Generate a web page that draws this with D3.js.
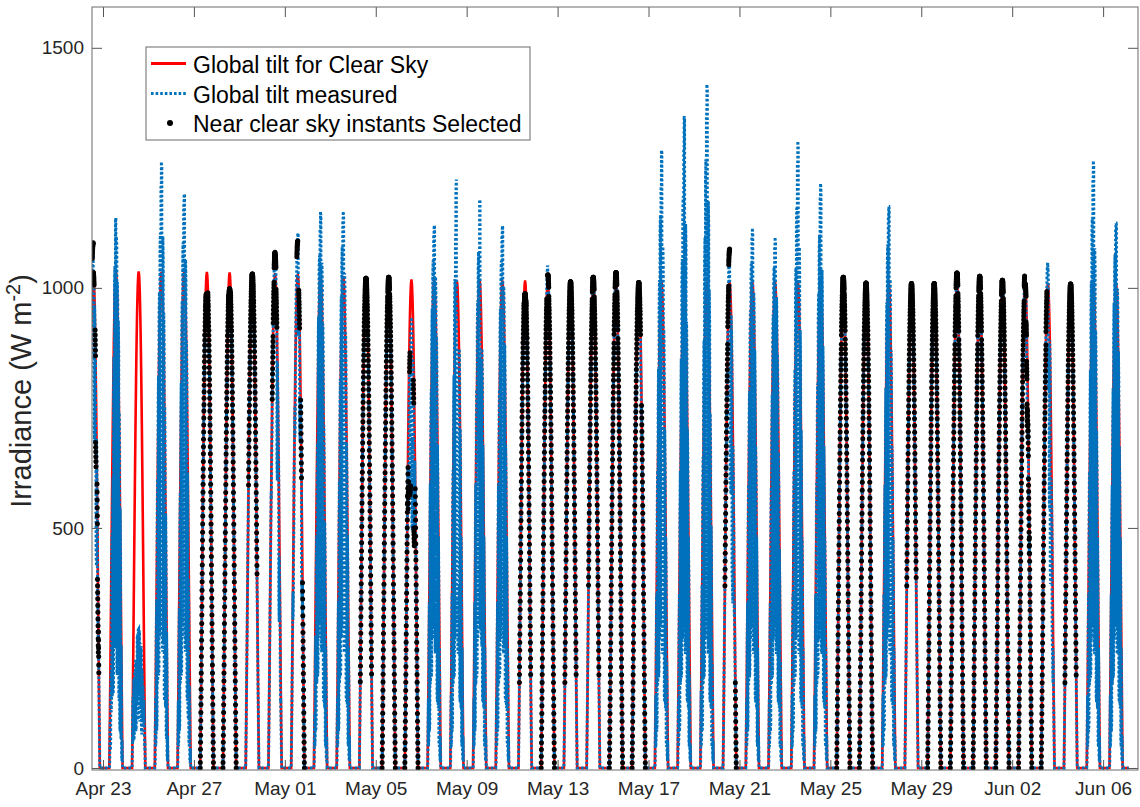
<!DOCTYPE html>
<html><head><meta charset="utf-8">
<script src="https://cdn.jsdelivr.net/npm/d3@7"></script>
<style>
body{margin:0;background:#fff;}
text{font-family:"Liberation Sans",Arial,Helvetica,sans-serif;}
</style>
</head><body>
<svg id="chart" width="1140" height="807"></svg>
<script>
// ---------------- DATA ----------------
// one entry per day (solar peak of the tilted plane occurs ~13:40 local clock time)
const dayDates = ["2017-04-22","2017-04-23","2017-04-24","2017-04-25","2017-04-26","2017-04-27","2017-04-28","2017-04-29","2017-04-30",
  "2017-05-01","2017-05-02","2017-05-03","2017-05-04","2017-05-05","2017-05-06","2017-05-07","2017-05-08","2017-05-09","2017-05-10",
  "2017-05-11","2017-05-12","2017-05-13","2017-05-14","2017-05-15","2017-05-16","2017-05-17","2017-05-18","2017-05-19","2017-05-20",
  "2017-05-21","2017-05-22","2017-05-23","2017-05-24","2017-05-25","2017-05-26","2017-05-27","2017-05-28","2017-05-29","2017-05-30",
  "2017-05-31","2017-06-01","2017-06-02","2017-06-03","2017-06-04","2017-06-05","2017-06-06"];
const solarPeakTime = "13:40";

// clear-sky global tilted irradiance at the daily peak (W m-2)
const clearSkyPeak = [1032,1032,1032,1031,1031,1031,1030,1029,1028,1026,
  1024,1022,1020,1018,1015,1014,1013,1013,1013,1013,
  1013,1013,1012,1012,1011,1011,1011,1011,1010,1010,
  1010,1010,1010,1010,1010,1009,1009,1009,1009,1009,
  1008,1008,1008,1008,1008,1008];

// normalised clear-sky daily shape, 5-min steps from -7 h to +7 h around the peak
const clearSkyProfile = [
  0.000,0.011,0.024,0.038,0.052,0.066,0.081,0.096,0.112,0.128,0.143,0.159,0.176,0.192,0.208,0.225,0.242,0.258,0.275,0.292,0.309,
  0.326,0.343,0.359,0.376,0.393,0.410,0.427,0.443,0.460,0.476,0.493,0.509,0.525,0.541,0.557,0.573,0.589,0.604,0.619,0.635,0.649,
  0.664,0.679,0.693,0.707,0.721,0.734,0.747,0.760,0.773,0.785,0.798,0.809,0.821,0.832,0.843,0.854,0.864,0.874,0.884,0.893,0.902,
  0.910,0.918,0.926,0.934,0.941,0.947,0.954,0.960,0.965,0.970,0.975,0.979,0.983,0.987,0.990,0.993,0.995,0.997,0.998,0.999,1.000,
  1.000,
  1.000,0.999,0.998,0.997,0.995,0.993,0.990,0.987,0.983,0.979,0.975,0.970,0.965,0.960,0.954,0.947,0.941,0.934,0.926,0.918,0.910,
  0.902,0.893,0.884,0.874,0.864,0.854,0.843,0.832,0.821,0.809,0.798,0.785,0.773,0.760,0.747,0.734,0.721,0.707,0.693,0.679,0.664,
  0.649,0.635,0.619,0.604,0.589,0.573,0.557,0.541,0.525,0.509,0.493,0.476,0.460,0.443,0.427,0.410,0.393,0.376,0.359,0.343,0.326,
  0.309,0.292,0.275,0.258,0.242,0.225,0.208,0.192,0.176,0.159,0.143,0.128,0.112,0.096,0.081,0.066,0.052,0.038,0.024,0.011,0.000];

// measured / clear-sky ratio per day, from -7 h to +7 h:
// 14 values = hourly readings, 28 values = half-hourly readings (cloudy days)
const measuredRatio = [
  [1,1,1,1,1,1,1,1,1,1,1,1,1.06,1.06,1.0,1.0,0.7,1.0,1.0,0.8,0.6,1.0,1.0,0.8,0.8,1.0,1.0,1.0],
  [0.15,0.6,0.2,0.55,0.3,0.85,0.25,0.8,0.2,0.95,0.3,1.05,0.25,1.11,0.3,1.08,0.2,1.05,0.25,1.1,0.2,1.08,0.15,1.1,0.2,0.9,0.15,0.7],
  [0.6,0.9,0.3,0.5,0.15,0.35,0.2,0.3,0.1,0.25,0.15,0.28,0.1,0.28,0.15,0.28,0.1,0.27,0.15,0.3,0.1,0.3,0.2,0.35,0.3,0.5,0.4,0.7],
  [0.2,0.9,0.25,0.95,0.2,1.05,0.3,1.08,0.25,1.1,0.3,1.12,0.3,1.18,1.22,0.3,0.25,1.15,0.3,1.12,0.2,1.1,0.25,1.08,0.2,1.0,0.15,0.8],
  [0.2,0.85,0.25,0.9,0.2,1.0,0.3,1.06,0.25,1.08,0.3,1.1,0.3,1.14,1.16,0.3,0.25,1.1,0.3,1.05,0.2,0.9,0.2,0.8,0.15,0.6,0.1,0.5],
  [1,1,1,1,1,0.99,0.958,0.958,0.99,1,1,1,1,1],
  [1,1,1,1,1,0.99,0.969,0.969,0.99,1,1,1,1,1],
  [1,1,1,1,1,1,1,1,1,1,1,1,1,1],
  [1,1,1,1,1,1,0.95,0.95,1,1,1.02,1.02,1.045,1.045,1.04,1.04,1.0,1.0,0.7,1.0,1.0,1.0,0.6,0.9,0.9,0.7,0.8,0.8],
  [0.9,0.9,1,1,0.8,0.9,1.0,1.0,0.9,1.0,1.05,1.05,1.07,1.07,1.086,0.9,1.0,1.0,0.8,0.9,1.0,1.0,0.7,0.8,1.0,1.0,1.0,1.0],
  [0.2,0.7,0.25,0.75,0.2,0.85,0.3,0.9,0.25,1.05,0.3,1.08,0.3,1.1,1.128,0.3,0.25,1.1,0.3,1.1,0.2,1.05,0.25,1.05,0.15,0.9,0.15,0.8],
  [0.2,0.9,0.25,0.95,0.2,1.05,0.3,1.08,0.25,1.1,0.3,1.1,0.3,1.12,1.13,0.3,0.25,1.08,0.3,1.08,0.2,1.0,0.25,1.0,0.15,0.9,0.15,0.8],
  [1,1,1,1,1,1,1,1,1,1,1,1,1,1],
  [1,1,1,1,1,1,1.004,1.004,1,1,1,1,1,1],
  [1,1,1,1,1,1,0.95,0.8,0.75,0.9,0.92,0.6,0.6,0.9,0.92,0.5,0.7,0.9,0.9,0.6,0.8,0.95,1,1,1,1,1,1],
  [0.2,0.9,0.25,0.95,0.2,1.05,0.3,1.06,0.25,1.08,0.3,1.08,0.3,1.1,1.115,0.3,0.25,1.08,0.3,1.08,0.2,1.0,0.25,1.0,0.15,0.9,0.15,0.8],
  [0.2,0.95,0.25,1.0,0.2,1.1,0.3,1.1,0.25,1.15,0.3,1.15,1.222,0.3,0.3,0.35,0.25,0.4,0.3,1.05,0.2,1.05,0.25,1.0,0.15,0.9,0.15,0.8],
  [0.2,0.9,0.25,0.95,0.2,1.05,0.3,1.06,0.25,1.1,0.3,1.1,0.7,0.6,1.169,0.3,0.3,0.9,0.3,1.05,0.2,1.0,0.25,1.0,0.15,0.9,0.15,0.8],
  [0.2,0.9,0.25,0.95,0.2,1.05,0.3,1.06,0.25,1.08,0.3,1.08,0.3,1.1,1.115,0.3,0.25,1.06,0.3,1.06,0.2,1.0,0.25,1.0,0.15,0.9,0.15,0.8],
  [1,1,1,1,1,0.99,0.975,0.975,0.99,1,1,1,1,1],
  [1,1,1,1,1,1,1.033,1.014,1,1,1,1,1,1],
  [1,1,1,1,1,1,1,1,1,1,1,1,1,1],
  [1,1,1,1,1,1,1.01,1.01,1,1,1,1,1,1],
  [1,1,1,1,1,1.01,1.02,1.02,1.01,1,1,1,1,1],
  [1,1,1,1,1,1,1,1,1,0.95,1,1,1,1],
  [0.25,0.95,0.25,1.0,0.2,1.1,0.3,1.12,0.25,1.15,0.3,1.18,0.3,1.2,1.273,0.3,0.25,1.15,0.3,1.1,0.2,1.05,0.25,1.0,0.15,0.8,0.15,0.7],
  [0.2,0.9,0.25,1.0,0.2,1.1,0.3,1.15,0.25,1.2,0.3,1.22,0.3,1.28,1.34,0.3,0.25,1.2,0.3,1.12,0.2,1.05,0.25,1.0,0.15,0.7,0.15,0.6],
  [0.25,1.0,0.25,1.05,0.2,1.15,0.3,1.2,0.25,1.25,0.3,1.3,0.3,1.35,1.404,0.3,0.25,1.25,0.3,1.2,0.2,1.1,0.25,1.05,0.15,0.8,0.15,0.7],
  [1,1,1,1,1,1,1,1,1,1,1.03,1.03,1.07,1.07,1.0,0.6,0.6,1.0,1.02,0.5,0.5,1.0,1.0,0.8,0.9,0.9,1.0,1.0],
  [0.2,0.9,0.25,0.95,0.2,1.05,0.3,1.06,0.25,1.08,0.3,1.08,0.3,1.1,1.109,0.3,0.25,1.05,0.3,1.05,0.2,1.0,0.25,1.0,0.15,0.9,0.15,0.8],
  [0.25,0.9,0.25,0.95,0.2,1.04,0.3,1.05,0.25,1.07,0.3,1.07,0.3,1.08,1.09,0.3,0.25,1.04,0.3,1.04,0.2,0.98,0.25,0.95,0.15,0.8,0.15,0.7],
  [0.25,0.95,0.25,1.0,0.2,1.1,0.3,1.12,0.25,1.18,0.3,1.2,0.3,1.25,1.288,0.3,0.25,1.15,0.3,1.1,0.2,1.05,0.25,1.0,0.15,0.9,0.15,0.8],
  [0.25,0.95,0.25,1.0,0.2,1.06,0.3,1.08,0.25,1.12,0.3,1.14,0.3,1.18,1.201,0.3,0.25,1.1,0.3,1.06,0.2,1.0,0.25,1.0,0.15,0.9,0.15,0.8],
  [1,1,1,1,1,1.01,1.012,1.012,1.01,1,1,1,1,1],
  [1,1,1,1,1,1,1,1,1,1,1,1,1,1],
  [0.25,0.95,0.25,1.0,0.2,1.05,0.3,1.07,0.25,1.1,0.3,1.12,0.3,1.14,1.159,0.3,0.25,1.08,0.3,1.05,0.2,1.0,0.25,1.0,0.15,0.9,0.15,0.8],
  [1,1,1,1,1,1,1,1,1,1,1,1,1,1],
  [1,1,1,1,1,1,1,1,1,1,1,1,1,1],
  [1,1,1,1,1,1.01,1.022,1.022,1.01,1,1,1,1,1],
  [1,1,1,1,1,1.01,1.015,1.015,1.01,1,1,1,1,1],
  [1,1,1,1,1,1,1.008,1.008,1,1,1,1,1,1],
  [1,1,1,1,1,1,1,1,1,1,1,1,1.027,1.0,1.0,1.0,0.95,0.9,0.85,0.9,0.95,0.9,0.9,1.0,1,1,1,1],
  [1,1,1,1,1,1,1,1,1,1,1.02,1.02,1.044,1.044,1.03,0.8,0.9,0.6,1.0,0.5,0.7,0.9,0.95,0.6,0.6,0.9,0.9,0.9],
  [1,1,1,1,1,1,1,1,1,1,1,1,1,1],
  [0.25,0.95,0.25,1.0,0.2,1.1,0.3,1.12,0.25,1.15,0.3,1.18,0.3,1.22,1.25,0.3,0.25,1.15,0.3,1.1,0.2,1.05,0.25,1.0,0.15,0.9,0.15,0.8],
  [0.25,0.95,0.25,1.0,0.2,1.05,0.3,1.07,0.25,1.1,0.3,1.1,0.3,1.12,1.126,0.3,0.25,1.06,0.3,1.05,0.2,1.0,0.25,1.0,0.15,0.9,0.15,0.8]
];

// hours selected as near clear sky instants (1 = selected), 14 hourly bins (-7 h .. +7 h)
const selectedHours = ["00000011010110","00000000000000","00000000000000","00000000000000","00000000000000",
  "11111111111111","11111111111111","00011111111100","00001111100000","00000010101011",
  "00000000000000","00000000000000","01111111111110","11111111111111","11110100010111",
  "00000000000000","00000000000000","00000000000000","00000000000000","01111111111110",
  "11111101111111","01111111111110","00111111111110","11111111111111","11111111101111",
  "00000000000000","00000000000000","00000000000000","00111110000001","00000000000000",
  "00000000000000","00000000000000","00000000000000","11111111111111","11111111111111",
  "00000000000000","00111111111100","11111111111111","11111111111111","11111111111111",
  "11111111111111","11111111111111","11111100000000","01111111111110","00000000000000",
  "00000000000000"];

const xTickDates = ["2017-04-23","2017-04-27","2017-05-01","2017-05-05","2017-05-09","2017-05-13",
  "2017-05-17","2017-05-21","2017-05-25","2017-05-29","2017-06-02","2017-06-06"];
const yTickValues = [0, 500, 1000, 1500];
const xLimits = ["2017-04-22 12:23", "2017-06-07 12:50"];
const yLimits = [-4.2, 1585];
const dataEnd = "2017-06-07 03:00";
const legendLabels = ["Global tilt for Clear Sky", "Global tilt measured", "Near clear sky instants Selected"];

// ---------------- CHART ----------------
const svg = d3.select("#chart");
const W = 1140, H = 807;
const M = {left: 92, right: 1138, top: 7, bottom: 770};
const parseDT = d3.timeParse("%Y-%m-%d %H:%M");
const parseD = d3.timeParse("%Y-%m-%d");

const x = d3.scaleTime().domain(xLimits.map(parseDT)).range([M.left, M.right]);
const y = d3.scaleLinear().domain(yLimits).range([M.bottom, M.top]);

// build the time series from the arrays
const nHalf = (clearSkyProfile.length - 1) / 2;   // samples each side of the peak
const stepMin = 420 / nHalf;
const series = [];
dayDates.forEach((d, k) => {
  const peakT = parseDT(d + " " + solarPeakTime);
  const ratios = measuredRatio[k];
  const binMin = 840 / ratios.length;
  clearSkyProfile.forEach((p, i) => {
    const offMin = (i - nHalf) * stepMin;
    const rBin = Math.min(ratios.length - 1, Math.floor((offMin + 420) / binMin));
    const hBin = Math.min(13, Math.floor((offMin + 420) / 60));
    const clear = clearSkyPeak[k] * p;
    series.push({
      t: new Date(peakT.getTime() + offMin * 60000),
      clear: clear,
      meas: clear * ratios[rBin],
      sel: selectedHours[k][hBin] === "1"
    });
  });
});
series.push({t: parseDT(dataEnd), clear: 0, meas: 0, sel: false});

svg.append("rect").attr("width", W).attr("height", H).attr("fill", "#fff");

svg.append("defs").append("clipPath").attr("id", "clip")
  .append("rect").attr("x", M.left).attr("y", M.top)
  .attr("width", M.right - M.left).attr("height", M.bottom - M.top);

const plot = svg.append("g").attr("clip-path", "url(#clip)");

const lineClear = d3.line().x(d => x(d.t)).y(d => y(d.clear));
const lineMeas = d3.line().x(d => x(d.t)).y(d => y(d.meas));

plot.append("path").datum(series).attr("d", lineClear)
  .attr("fill", "none").attr("stroke", "#ff0000").attr("stroke-width", 2.6);

plot.append("path").datum(series).attr("d", lineMeas)
  .attr("fill", "none").attr("stroke", "#0072BD").attr("stroke-width", 3)
  .attr("stroke-dasharray", "2.6,2");

plot.append("g").selectAll("circle").data(series.filter(d => d.sel)).join("circle")
  .attr("cx", d => x(d.t)).attr("cy", d => y(d.meas)).attr("r", 2.5).attr("fill", "#000");

// axes
const fmt = d3.timeFormat("%b %d");
const axisColor = "#262626";
const gx = svg.append("g").attr("transform", `translate(0,${M.bottom})`)
  .call(d3.axisBottom(x).tickValues(xTickDates.map(parseD)).tickFormat(fmt).tickSize(-10).tickPadding(12));
const gy = svg.append("g").attr("transform", `translate(${M.left},0)`)
  .call(d3.axisLeft(y).tickValues(yTickValues).tickFormat(d3.format("d")).tickSize(-10).tickPadding(8));
const gt = svg.append("g").attr("transform", `translate(0,${M.top})`)
  .call(d3.axisTop(x).tickValues(xTickDates.map(parseD)).tickFormat("").tickSize(-10));
const gr = svg.append("g").attr("transform", `translate(${M.right},0)`)
  .call(d3.axisRight(y).tickValues(yTickValues).tickFormat("").tickSize(-10));
[gx, gy, gt, gr].forEach(g => {
  g.select(".domain").remove();
  g.selectAll(".tick line").attr("stroke", "#555").attr("stroke-width", 1);
  g.selectAll("text").attr("fill", axisColor).style("font-size", "19px")
    .style("font-family", '"Liberation Sans",Arial,Helvetica,sans-serif');
});
svg.append("rect").attr("x", M.left).attr("y", M.top)
  .attr("width", M.right - M.left).attr("height", M.bottom - M.top)
  .attr("fill", "none").attr("stroke", "#6a6a6a").attr("stroke-width", 1);

// y label
const yl = svg.append("text").attr("transform", "translate(31,391) rotate(-90)")
  .attr("text-anchor", "middle").attr("fill", axisColor).style("font-size", "29px");
yl.append("tspan").text("Irradiance (W m");
yl.append("tspan").attr("baseline-shift", "super").style("font-size", "20px").text("-2");
yl.append("tspan").text(")");

// legend
const lg = svg.append("g");
lg.append("rect").attr("x", 146).attr("y", 47).attr("width", 384).attr("height", 93)
  .attr("fill", "#fff").attr("stroke", "#6a6a6a").attr("stroke-width", 1);
const rows = [63.5, 93.5, 123];
lg.append("line").attr("x1", 151).attr("x2", 186).attr("y1", rows[0]).attr("y2", rows[0])
  .attr("stroke", "#ff0000").attr("stroke-width", 3);
lg.append("line").attr("x1", 151).attr("x2", 186).attr("y1", rows[1]).attr("y2", rows[1])
  .attr("stroke", "#0072BD").attr("stroke-width", 3).attr("stroke-dasharray", "2.6,2");
lg.append("circle").attr("cx", 170).attr("cy", rows[2]).attr("r", 3).attr("fill", "#000");
legendLabels.forEach((t, i) => {
  lg.append("text").attr("x", 193).attr("y", rows[i] + 9).attr("fill", "#000")
    .style("font-size", "23px").text(t);
});
</script>
</body></html>
